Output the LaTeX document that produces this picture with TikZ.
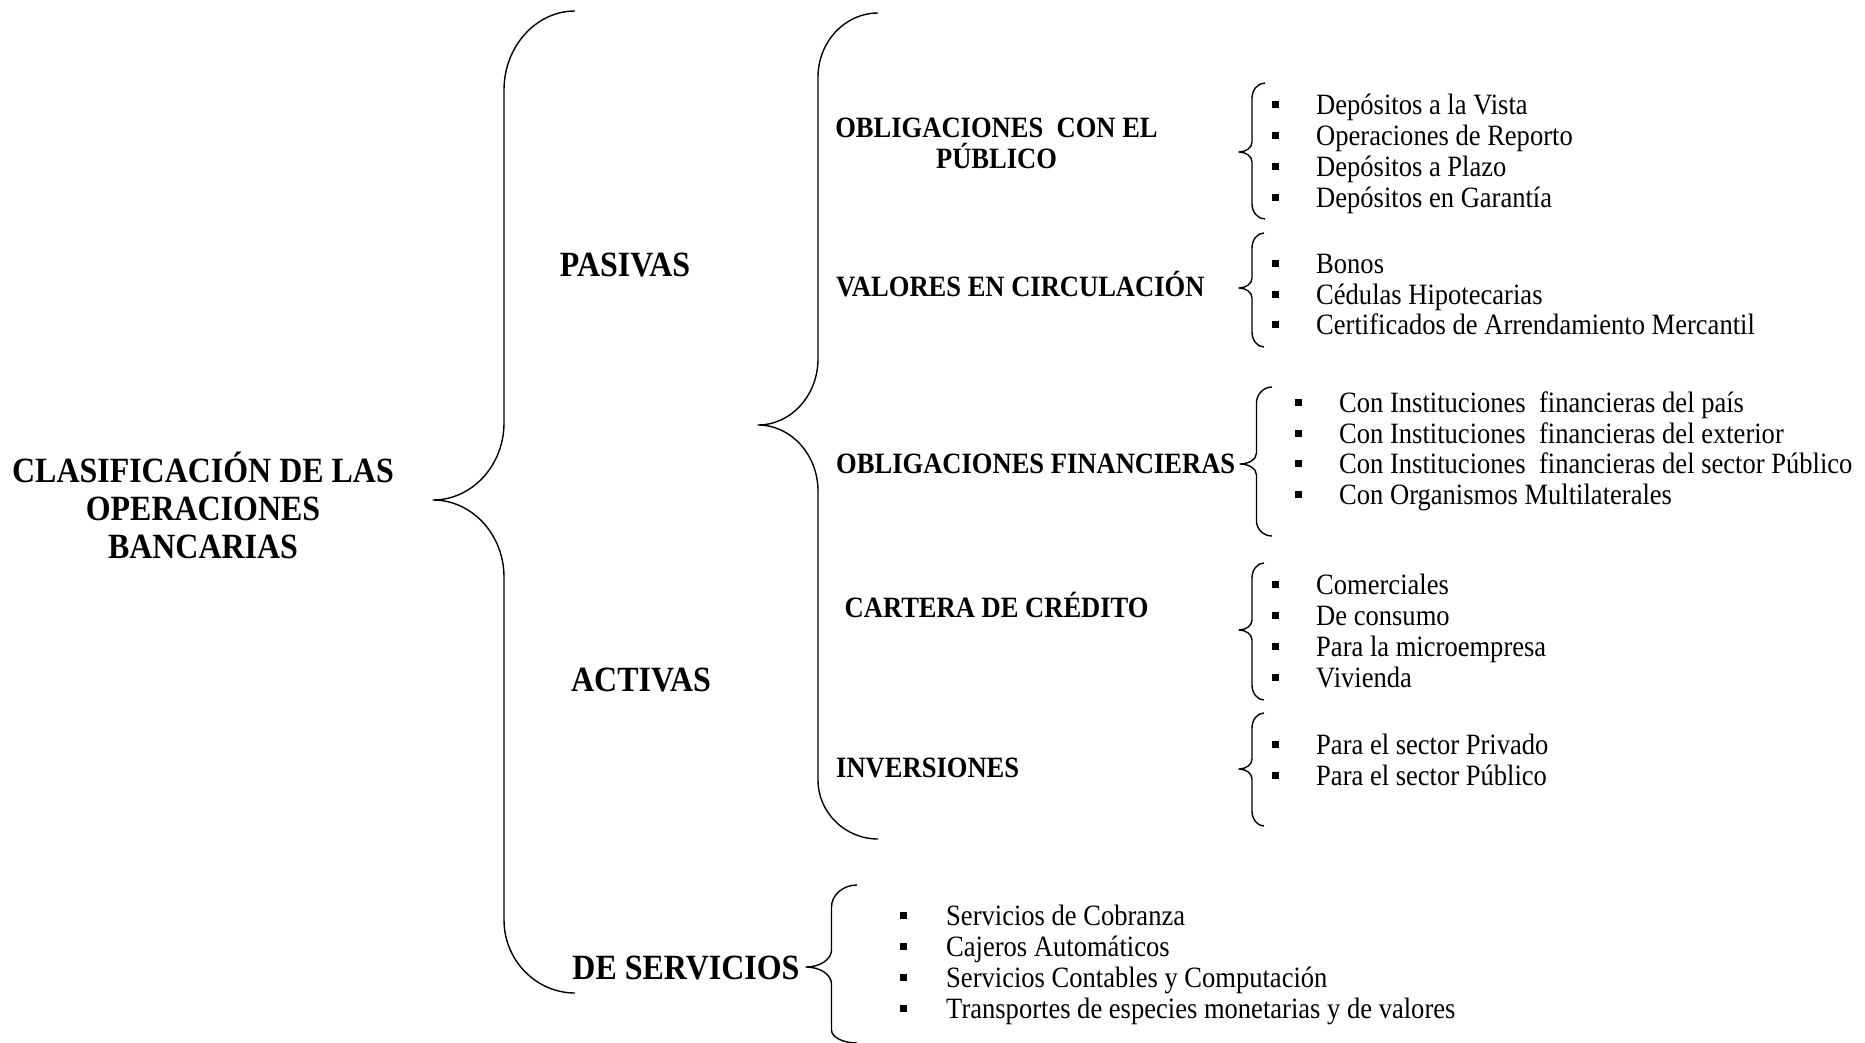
\documentclass[tikz,border=0pt]{standalone}
\usepackage{fontspec}
\setmainfont{Liberation Serif}[FakeStretch=0.9]

% curly brace opening to the right:
% #1 x of the ends, #2 x of the stem, #3 x of the point,
% #4 y top, #5 y point, #6 y bottom,
% #7 top hook height, #8 point curve height, #9 bottom hook height
\newcommand\bracepath[9]{%
  \draw[bracestroke]
    (#1,#4) .. controls ({#2+0.45*(#1-#2)},#4) and (#2,{#4+0.45*#7}) .. (#2,{#4+#7})
    -- (#2,{#5-#8})
    .. controls (#2,{#5-0.45*#8}) and ({#3+0.55*(#2-#3)},#5) .. (#3,#5)
    .. controls ({#3+0.55*(#2-#3)},#5) and (#2,{#5+0.45*#8}) .. (#2,{#5+#8})
    -- (#2,{#6-#9})
    .. controls (#2,{#6-0.45*#9}) and ({#2+0.45*(#1-#2)},#6) .. (#1,#6);
}

% bulleted list: #1 prefix of names, #2 x of the squares, #3 x of the text, #4 baseline/text pairs
\newcommand\bulletlist[4]{%
  \foreach \yb/\itm [count=\ii] in {#4} {
    \node[sqmark] (#1m\ii) at (#2,{\yb-10}) {};
    \node[entrytext] (#1t\ii) at (#3,\yb) {\itm};
  }
}

\begin{document}
\begin{tikzpicture}[x=1pt,y=-1pt,
  bracestroke/.style={line width=1.4pt, line join=round},
  headA/.style={font=\bfseries\fontsize{35.5}{38}\selectfont, anchor=base, inner sep=0pt},
  headB/.style={font=\bfseries\fontsize{29.5}{31}\selectfont, anchor=base west, inner sep=0pt},
  entrytext/.style={font=\fontsize{29.5}{31}\selectfont, anchor=base west, inner sep=0pt},
  sqmark/.style={fill=black, minimum size=7pt, inner sep=0pt, outer sep=0pt}]

\useasboundingbox (0,0) rectangle (1865,1043);

% root
\node[headA] (root1) at (203,482.5) {CLASIFICACIÓN DE LAS};
\node[headA] (root2) at (203,520.5) {OPERACIONES};
\node[headA] (root3) at (203,558.5) {BANCARIAS};

% first level
\node[headA] (pas) at (625,276.5) {PASIVAS};
\node[headA] (act) at (641,691.5) {ACTIVAS};
\node[headA] (ser) at (686,979.5) {DE SERVICIOS};

% second level
\node[headB, anchor=base] (ocp1) at (996.5,138) {OBLIGACIONES~ CON EL};
\node[headB, anchor=base] (ocp2) at (996.5,168.5) {PÚBLICO};
\node[headB] (vec) at (836,296) {VALORES EN CIRCULACIÓN};
\node[headB] (ofi) at (836,473.5) {OBLIGACIONES FINANCIERAS};
\node[headB] (cdc) at (844.5,617) {CARTERA DE CRÉDITO};
\node[headB] (inv) at (836,777) {INVERSIONES};

% braces
\bracepath{575}{504}{433}{11}{500}{993}{79}{77}{73}
\bracepath{878}{818}{758}{13}{425}{839}{64}{66}{59}
\bracepath{1265}{1252}{1239}{83}{152}{219}{15}{10}{15}
\bracepath{1264}{1252}{1239}{233}{288}{347}{15}{10}{15}
\bracepath{1272}{1256.5}{1240}{387}{464}{536}{16}{11}{15}
\bracepath{1264}{1252}{1239}{563}{630}{700}{15}{10}{15}
\bracepath{1264}{1252}{1239}{713}{769}{826}{15}{10}{15}
\bracepath{857}{831.5}{806}{885}{967}{1043}{22}{17}{13}

% leaf lists
\bulletlist{g1}{1275}{1316}{115/Depósitos a la Vista, 146/Operaciones de Reporto,
  176.5/Depósitos a Plazo, 207.5/Depósitos en Garantía}
\bulletlist{g2}{1275}{1316}{273.5/Bonos, 304/Cédulas Hipotecarias,
  334.5/Certificados de Arrendamiento Mercantil}
\bulletlist{g3}{1298.5}{1339}{412/Con Instituciones~ financieras del país,
  443/Con Instituciones~ financieras del exterior,
  473/Con Instituciones~ financieras del sector Público,
  504/Con Organismos Multilaterales}
\bulletlist{g4}{1275}{1316}{594.5/Comerciales, 625.5/De consumo,
  656.5/Para la microempresa, 687.5/Vivienda}
\bulletlist{g5}{1275}{1316}{754.5/Para el sector Privado, 785.5/Para el sector Público}
\bulletlist{g6}{903.5}{946}{925/Servicios de Cobranza, 956/Cajeros Automáticos,
  987/Servicios Contables y Computación,
  1018/Transportes de especies monetarias y de valores}

\end{tikzpicture}
\end{document}
